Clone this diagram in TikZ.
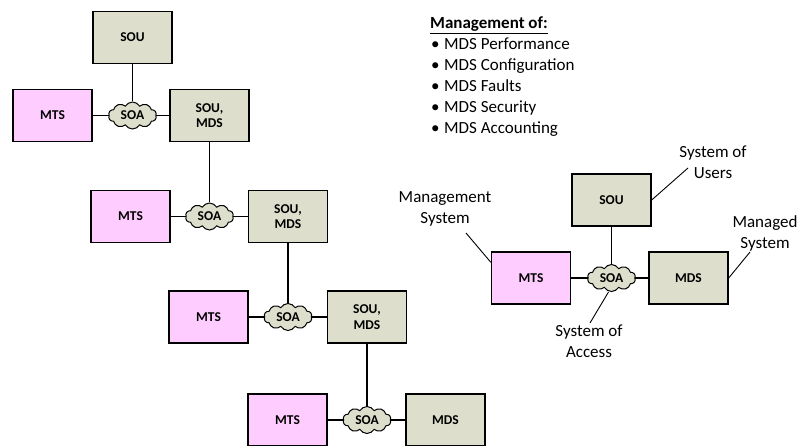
\documentclass[tikz,border=0pt]{standalone}
\usepackage{fontspec}
\setmainfont{Carlito}
\usetikzlibrary{shapes.symbols,calc}
\definecolor{boxg}{RGB}{221,223,204}
\definecolor{boxp}{RGB}{255,204,255}
\begin{document}
\begin{tikzpicture}[x=1pt,y=-1pt,
 sys/.style={draw=black, line width=1.4pt, minimum width=79pt, minimum height=52pt, inner sep=0pt, align=center, font=\fontsize{13.5}{15.5}\selectfont\bfseries},
 gbox/.style={sys, fill=boxg},
 pbox/.style={sys, fill=boxp},
 soa/.style={cloud, cloud puffs=10, cloud puff arc=120, aspect=2, draw=black, line width=1pt, fill=boxg, minimum width=48pt, minimum height=27pt, inner sep=0pt, font=\fontsize{13.5}{15.5}\selectfont\bfseries},
 conn/.style={line width=1.4pt},
 lead/.style={line width=0.9pt},
 lbl/.style={align=center, font=\fontsize{17}{21}\selectfont, inner sep=0pt},
 li/.style={anchor=base west, inner sep=0pt, font=\fontsize{17}{21}\selectfont}]
\useasboundingbox (0,0) rectangle (803,446);

% left cascade
\node[gbox] (sou1) at (132.5,37.5) {SOU};
\node[pbox] (mts1) at (52.5,115.5) {MTS};
\node[soa]  (soa1) at (132.5,115.5) {SOA};
\node[gbox] (sm1)  at (209.5,115.5) {SOU,\\MDS};
\node[pbox] (mts2) at (130.5,216.5) {MTS};
\node[soa]  (soa2) at (209.5,216.5) {SOA};
\node[gbox] (sm2)  at (288,216.5) {SOU,\\MDS};
\node[pbox] (mts3) at (208.5,317) {MTS};
\node[soa]  (soa3) at (288,317) {SOA};
\node[gbox] (sm3)  at (367,317) {SOU,\\MDS};
\node[pbox] (mts4) at (287.5,420) {MTS};
\node[soa]  (soa4) at (367,420) {SOA};
\node[gbox] (mds4) at (445.5,420) {MDS};

\draw[conn] (sou1) -- (soa1);
\draw[conn] (mts1) -- (soa1) -- (sm1);
\draw[conn] (sm1) -- (soa2);
\draw[conn] (mts2) -- (soa2) -- (sm2);
\draw[conn] (sm2) -- (soa3);
\draw[conn] (mts3) -- (soa3) -- (sm3);
\draw[conn] (sm3) -- (soa4);
\draw[conn] (mts4) -- (soa4) -- (mds4);

% list
\node[li, font=\fontsize{17}{21}\selectfont\bfseries] (mh) at (430,29) {\underline{Management of:}};
\node[li] (i1) at (431,50) {\makebox[13pt][l]{•}MDS Performance};
\node[li] (i2) at (431,71) {\makebox[13pt][l]{•}MDS Configuration};
\node[li] (i3) at (431,92) {\makebox[13pt][l]{•}MDS Faults};
\node[li] (i4) at (431,113) {\makebox[13pt][l]{•}MDS Security};
\node[li] (i5) at (431,134) {\makebox[13pt][l]{•}MDS Accounting};

% right group
\node[gbox] (sour) at (611.5,200) {SOU};
\node[pbox] (mtsr) at (531,278) {MTS};
\node[soa]  (soar) at (611.5,278) {SOA};
\node[gbox] (mdsr) at (688.5,278) {MDS};
\draw[conn] (sour) -- (soar);
\draw[conn] (mtsr) -- (soar) -- (mdsr);

\node[lbl] (lms) at (445,209) {Management\\System};
\node[lbl] (lsu) at (713,162) {System of\\Users};
\node[lbl] (lmg) at (765,233) {Managed\\System};
\node[lbl] (lsa) at (589,341) {System of\\Access};

\coordinate (ems) at (466,233);
\coordinate (esu) at (688,168);
\coordinate (emg) at (750,252);
\coordinate (esa) at (590,323);
\draw[lead] (ems) -- ($(mtsr.north west)+(0,11)$);
\draw[lead] (sour.east) -- (esu);
\draw[lead] (mdsr.east) -- (emg);
\draw[lead] ($(soar.south)+(-3,0)$) -- (esa);
\end{tikzpicture}
\end{document}
